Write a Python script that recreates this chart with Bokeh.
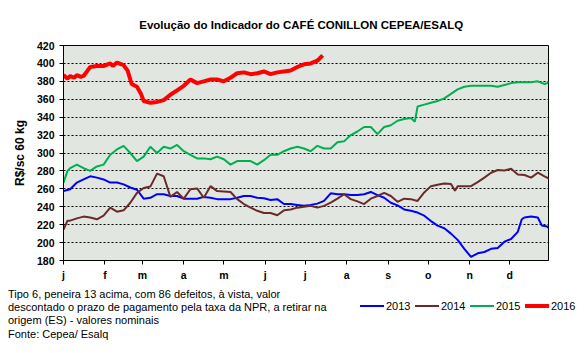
from bokeh.plotting import figure
from bokeh.models import Range1d, FixedTicker, Div
from bokeh.layouts import column
from bokeh.embed import file_html
from bokeh.resources import INLINE

# ---------------- data (day of year, R$/sc 60 kg) ----------------
days_2013 = [0, 5, 10, 15, 20, 25, 30, 35, 40, 45, 50, 55, 60, 65, 70, 75, 80, 85, 90, 95,
             100, 105, 110, 115, 120, 125, 130, 135, 140, 145, 150, 155, 160, 165, 170, 175,
             180, 185, 190, 195, 200, 205, 210, 215, 220, 225, 230, 235, 240, 245, 250, 255,
             260, 265, 270, 275, 280, 285, 290, 295, 300, 305, 310, 315, 320, 325, 330, 335,
             340, 343, 345, 350, 355, 358, 362, 364]
vals_2013 = [257.5, 259.5, 267, 270.5, 274, 272.5, 270.5, 267, 267, 265, 261.5, 259, 249, 250,
             254, 254, 252, 252, 249, 249, 249, 251, 250, 248.5, 248.5, 248.5, 250, 252, 252,
             250, 249.5, 247.5, 248.5, 243, 243, 242, 241, 242, 243.5, 246.5, 255, 254, 254,
             253, 253, 254, 256.5, 253, 250, 244.5, 241.5, 237, 235.5, 233.5, 230, 224, 219,
             216, 210, 203, 193, 184, 188, 189.5, 193, 194, 201, 204, 212, 226, 228, 229, 228,
             219, 218, 215]

days_2014 = [0, 3, 5, 10, 15, 20, 25, 30, 35, 40, 45, 50, 55, 60, 65, 70, 75, 80, 85, 90, 95,
             100, 105, 110, 115, 120, 125, 130, 135, 140, 145, 150, 155, 160, 165, 170, 175,
             180, 185, 190, 195, 200, 205, 210, 215, 220, 225, 230, 235, 240, 245, 250, 255,
             260, 265, 270, 275, 280, 285, 290, 293, 295, 300, 305, 310, 315, 320, 325, 330,
             335, 340, 345, 350, 355, 360, 364]
vals_2014 = [214.5, 224.5, 224.5, 227, 229, 228, 226, 230, 239, 234.5, 236, 244.5, 255.5, 261,
             262.5, 277, 274, 251, 256.5, 249, 259.5, 260.5, 250, 263, 257.5, 257, 256.5, 248.5,
             243, 239, 235.5, 233, 233, 230.5, 236, 237, 239, 240, 241, 239, 241, 244.5, 249,
             254, 248.5, 246, 243, 249, 252, 255.5, 252, 245.5, 249, 248.5, 246.5, 256, 263,
             264.5, 266, 265.5, 258, 263, 263, 263, 267.5, 272.5, 278, 281, 280.5, 282.5, 276,
             275.5, 272.5, 278, 274, 271]

days_2015 = [0, 3, 5, 10, 15, 20, 25, 30, 35, 40, 45, 50, 55, 60, 65, 70, 75, 80, 85, 90, 95,
             100, 105, 110, 115, 120, 125, 130, 135, 140, 145, 150, 155, 160, 165, 170, 175,
             180, 185, 190, 195, 200, 205, 210, 215, 220, 225, 230, 235, 240, 245, 250, 255,
             260, 263, 265, 270, 275, 280, 285, 290, 295, 300, 305, 310, 315, 320, 325, 330,
             335, 340, 345, 350, 355, 360, 364]
vals_2015 = [267, 280, 283, 287, 283, 280, 285, 287, 298, 304, 308, 300, 291, 296, 307, 300,
             307, 305, 309, 302, 298, 294, 294, 293, 296, 293, 287, 291, 291, 291, 287, 292,
             298, 298, 302, 305, 307, 305, 302, 308, 305, 305, 312, 313, 320, 324, 329, 329,
             321, 329, 331, 336, 338, 339, 335, 352, 354, 356, 358, 361, 366, 371, 374, 375,
             375, 375, 375, 374, 376, 378, 379, 379, 379, 380, 377, 379]

days_2016 = [0, 3, 5, 8, 10, 13, 15, 18, 20, 25, 30, 33, 35, 37, 40, 45, 48, 51, 55, 58, 60,
             65, 70, 75, 80, 85, 90, 95, 100, 105, 110, 115, 120, 125, 130, 135, 140, 145, 150,
             155, 160, 165, 170, 175, 180, 185, 190, 194]
vals_2016 = [387, 383, 386, 384, 387, 385, 386, 392, 396, 397, 397, 399, 400, 397, 401, 398,
             392, 377, 374, 366, 358, 356, 357, 359, 365, 370, 375, 382, 378, 380, 382, 382,
             380, 384, 389, 390, 388, 389, 391, 388, 390, 391, 392, 396, 399, 400, 403, 409]

month_ticks = [0, 31, 59, 90, 120, 151, 181, 212, 243, 273, 304, 334]
month_labels = ["j", "f", "m", "a", "m", "j", "j", "a", "s", "o", "n", "d"]
y_ticks = [180, 200, 220, 240, 260, 280, 300, 320, 340, 360, 380, 400, 420]

series_names = ["2013", "2014", "2015", "2016"]
series_colors = ["#0000FF", "#6B2A2A", "#00B050", "#FF0000"]
series_widths = [2, 2, 2, 4]

title_text = "Evolução  do Indicador do CAFÉ  CONILLON  CEPEA/ESALQ"
note_lines = ["Tipo 6, peneira 13 acima, com 86 defeitos, à vista, valor",
              "descontado o prazo de pagamento pela taxa da NPR,  a retirar na",
              "origem (ES) - valores nominais",
              "Fonte: Cepea/ Esalq"]

FONT = "Liberation Sans"

# ---------------- main chart ----------------
p = figure(width=585, height=283, output_backend="svg", toolbar_location=None,
           x_range=Range1d(0, 363), y_range=Range1d(180, 420),
           min_border_left=63, min_border_right=37, min_border_top=45,
           min_border_bottom=20)

p.background_fill_color = "#E1E6E0"
p.border_fill_color = "white"
p.outline_line_color = "black"
p.outline_line_width = 1

p.title.text = title_text
p.title.align = "center"
p.title.vertical_align = "top"
p.title.text_font = FONT
p.title.text_font_size = "11.5px"
p.title.text_font_style = "bold"
p.title.text_color = "black"
p.title.standoff = 26

p.xaxis.ticker = FixedTicker(ticks=month_ticks)
p.xaxis.major_label_overrides = {t: l for t, l in zip(month_ticks, month_labels)}
p.yaxis.ticker = FixedTicker(ticks=y_ticks)
for ax in (p.xaxis[0], p.yaxis[0]):
    ax.axis_line_color = "black"
    ax.major_tick_line_color = "black"
    ax.major_tick_in = 0
    ax.major_tick_out = 4
    ax.minor_tick_line_color = None
    ax.major_label_text_font = FONT
    ax.major_label_text_font_size = "10.5px"
    ax.major_label_text_font_style = "bold"
    ax.major_label_text_color = "black"
p.xaxis.major_label_standoff = 4
p.yaxis.major_label_standoff = 5
p.yaxis.axis_label = "R$/sc 60 kg"
p.yaxis.axis_label_text_font = FONT
p.yaxis.axis_label_text_font_size = "12px"
p.yaxis.axis_label_text_font_style = "bold"
p.yaxis.axis_label_text_color = "black"
p.yaxis.axis_label_standoff = 7

p.xgrid.grid_line_color = None
p.ygrid.grid_line_color = "black"
p.ygrid.grid_line_dash = "2 2"
p.ygrid.grid_line_width = 1

all_days = [days_2013, days_2014, days_2015, days_2016]
all_vals = [vals_2013, vals_2014, vals_2015, vals_2016]
for d, v, c, w in zip(all_days, all_vals, series_colors, series_widths):
    p.line(d, v, line_color=c, line_width=w)

# ---------------- footer: notes + legend (HTML) ----------------
notes_html = "<br>".join(note_lines)
legend_parts = []
for i, (name, c, w) in enumerate(zip(series_names, series_colors, series_widths)):
    x0 = 360 + 55 * i
    legend_parts.append(
        f'<div style="position:absolute;left:{x0}px;top:{23 - w / 2}px;width:24px;'
        f'height:0;border-top:{w}px solid {c};"></div>'
        f'<div style="position:absolute;left:{x0 + 26}px;top:16px;line-height:14px;'
        f'white-space:nowrap;">{name}</div>')
footer_html = (
    f'<div style="position:relative;width:585px;height:70px;font-family:\'{FONT}\';'
    f'font-size:11px;color:black;">'
    f'<div style="position:absolute;left:8px;top:5px;line-height:13.2px;'
    f'white-space:nowrap;">{notes_html}</div>'
    + "".join(legend_parts) + '</div>')
footer = Div(text=footer_html, width=585, height=70, margin=(0, 0, 0, 0))

layout = column(p, footer, spacing=0)
open("out.html", "w").write(file_html(layout, INLINE))
